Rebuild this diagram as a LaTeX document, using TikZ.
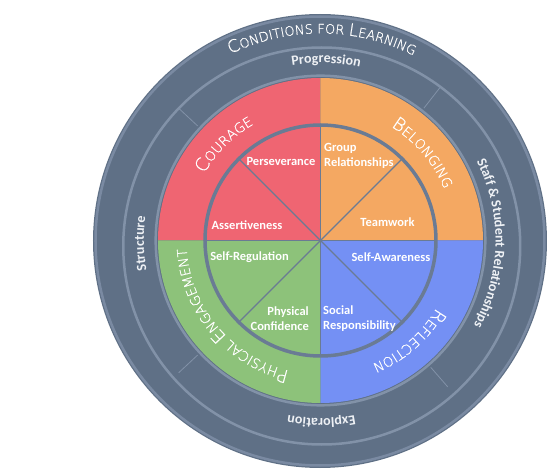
\documentclass[tikz,border=0pt]{standalone}
\usepackage{fontspec}
\usetikzlibrary{decorations.text}
\newfontfamily\capfont{DejaVu Sans ExtraLight}[FakeBold=0.8]
\newfontfamily\labfont{Carlito}
\definecolor{band}{HTML}{5F7086}
\definecolor{bandlight}{HTML}{8292A8}
\definecolor{rim}{HTML}{7A8AA2}
\definecolor{ringc}{HTML}{6A7B94}
\definecolor{cred}{HTML}{EF6572}
\definecolor{corange}{HTML}{F4A862}
\definecolor{cblue}{HTML}{7490F4}
\definecolor{cgreen}{HTML}{8DC27A}
\definecolor{ringtext}{HTML}{EEF1F5}
\newcommand\bigc{\capfont\fontsize{18}{18}\selectfont}
\newcommand\smallc{\capfont\fontsize{13.5}{13.5}\selectfont}
\newcommand\bigt{\capfont\fontsize{17}{17}\selectfont}
\newcommand\smallt{\capfont\fontsize{13}{13}\selectfont}
\newcommand\ringf{\labfont\bfseries\fontsize{14}{14}\selectfont}
% #1 radius, #2 centre angle, #3 half span, #4 colour, #5 text
\newcommand\arclabel[5]{%
  \path[decorate,decoration={text along path,text align=center,text color=#4,text={#5}}]
    (#2+#3:#1) arc[start angle=#2+#3,end angle=#2-#3,radius=#1];}
\tikzset{
  inlab/.style={font=\labfont\bfseries\fontsize{12.5}{13}\selectfont,text=white,inner sep=0pt},
  spoke/.style={draw=ringc,line width=1.1pt},
  tick/.style={draw=bandlight,line width=0.8pt}
}
\begin{document}
\begin{tikzpicture}[x=1pt,y=1pt]
\useasboundingbox (-320.5,-233.5) rectangle (226.5,240.5);
% outer disk
\fill[band] (-0.5,-0.5) circle[radius=227pt];
\draw[rim,line width=2.5pt] (-0.5,-0.5) circle[radius=224.5pt];
\draw[bandlight,line width=2.5pt] (1.25,-5.5) circle[radius=198.5pt];
\draw[bandlight,line width=2.5pt] (0,0) circle[radius=164.8pt];
% quadrants
\fill[cred] (0,0) -- (90:162.5pt) arc[start angle=90,end angle=180,radius=162.5pt] -- cycle;
\fill[corange] (0,0) -- (0:162.5pt) arc[start angle=0,end angle=90,radius=162.5pt] -- cycle;
\fill[cblue] (0,0) -- (-90:162.5pt) arc[start angle=-90,end angle=0,radius=162.5pt] -- cycle;
\fill[cgreen] (0,0) -- (180:162.5pt) arc[start angle=180,end angle=270,radius=162.5pt] -- cycle;
% ticks in band
\foreach \a in {137,52,-49,223}{\draw[tick] (\a:168pt) -- (\a:194pt);}
% spokes
\coordinate (c) at (0,0);
\foreach \a in {0,45,...,315}{\draw[spoke] (c) -- (\a:115pt);}
\draw[ringc,line width=3.5pt] (c) circle[radius=115.5pt];
% ring texts
\arclabel{207pt}{89.5}{70}{white}{|\bigt|C|\smallt|ONDITIONS FOR |\bigt|L|\smallt|EARNING}
\arclabel{177.5pt}{88.2}{60}{ringtext}{|\ringf|Progression}
\arclabel{176.5pt}{181}{60}{ringtext}{|\ringf|Structure}
\arclabel{178pt}{270.3}{60}{ringtext}{|\ringf|Exploration}
\arclabel{175pt}{-1}{70}{ringtext}{|\ringf|Staff {\&} Student Relationships}
% category texts
\arclabel{134pt}{135}{50}{white}{|\bigc|C|\smallc|OURAGE}
\arclabel{134pt}{40.4}{50}{white}{|\bigc|B|\smallc|ELONGING}
\arclabel{134pt}{-48.8}{50}{white}{|\bigc|R|\smallc|EFLECTION}
\arclabel{134pt}{220}{60}{white}{|\bigc|P|\smallc|HYSICAL |\bigc|E|\smallc|NGAGEMENT}
% inner labels
\node[inlab,anchor=base] (pers) at (-39.5,75) {Perseverance};
\node[inlab,anchor=base west] (grp1) at (3.5,89) {Group};
\node[inlab,anchor=base west] (grp2) at (3.5,74) {Relationships};
\node[inlab,anchor=base] (ass) at (-73.5,11) {Assertiveness};
\node[inlab,anchor=base] (team) at (67,14) {Teamwork};
\node[inlab,anchor=base] (sreg) at (-71,-20) {Self-Regulation};
\node[inlab,anchor=base] (saw) at (70.5,-21) {Self-Awareness};
\node[inlab,anchor=base east] (phy1) at (-11.5,-75) {Physical};
\node[inlab,anchor=base east] (phy2) at (-11.5,-90) {Confidence};
\node[inlab,anchor=base west] (soc1) at (2.5,-74) {Social};
\node[inlab,anchor=base west] (soc2) at (2.5,-89) {Responsibility};
\end{tikzpicture}
\end{document}
